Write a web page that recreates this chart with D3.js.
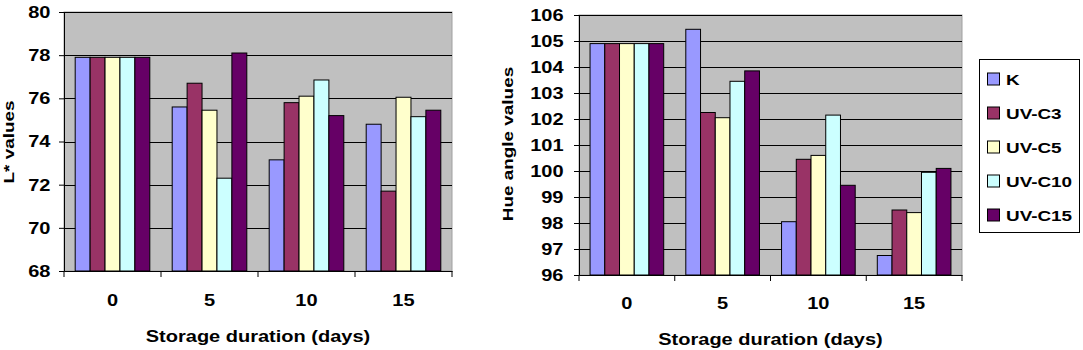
<!DOCTYPE html>
<html><head><meta charset="utf-8">
<script src="https://cdn.jsdelivr.net/npm/d3@7"></script>
<style>body{margin:0;background:#fff}svg{display:block}text{font-family:"Liberation Sans",Arial,sans-serif;font-weight:bold;fill:#000}</style>
</head><body>
<svg id="c" width="1083" height="350"></svg>
<script>
const days = ["0","5","10","15"];
const series = ["K","UV-C3","UV-C5","UV-C10","UV-C15"];
const colors = ["#9999FF","#993366","#FFFFCC","#CCFFFF","#660066"];
// L* values per series, across days 0,5,10,15
const lK    = [77.9, 75.6, 73.15, 74.8];
const lC3   = [77.9, 76.7, 75.8, 71.7];
const lC5   = [77.9, 75.45, 76.1, 76.05];
const lC10  = [77.9, 72.3, 76.85, 75.15];
const lC15  = [77.9, 78.1, 75.2, 75.45];
// Hue angle values
const hK    = [104.9, 105.45, 98.05, 96.75];
const hC3   = [104.9, 102.25, 100.45, 98.5];
const hC5   = [104.9, 102.05, 100.6, 98.4];
const hC10  = [104.9, 103.45, 102.15, 99.95];
const hC15  = [104.9, 103.85, 99.45, 100.1];
const lTicks = [68,70,72,74,76,78,80];
const hTicks = [96,97,98,99,100,101,102,103,104,105,106];

const SX = 1.25, FS = 16, LFS = 15, LSX = 1.26;
const svg = d3.select("#c");

function chart(cfg){
  const g = svg.append("g");
  const x0 = d3.scaleBand().domain(days).range([cfg.x0, cfg.x1]).padding(0);
  const x1 = d3.scaleBand().domain(series).range([0, x0.bandwidth()]).paddingInner(0).paddingOuter(0.75);
  const y = d3.scaleLinear().domain(cfg.domain).range([cfg.yb, cfg.yt]);
  g.append("rect").attr("x", cfg.x0).attr("y", cfg.yt).attr("width", cfg.x1-cfg.x0).attr("height", cfg.yb-cfg.yt)
    .attr("fill","#C0C0C0").attr("stroke","#A0A0A0").attr("stroke-width",1);
  g.selectAll(".grid").data(cfg.ticks.slice(1)).join("line")
    .attr("x1",cfg.x0).attr("x2",cfg.x1).attr("y1",d=>Math.round(y(d))+0.5).attr("y2",d=>Math.round(y(d))+0.5)
    .attr("stroke","#000").attr("stroke-width",1);
  const data = cfg.values.map((vals,si)=>vals.map((v,di)=>({s:series[si],d:days[di],v,si})));
  g.selectAll(".bar").data(data.flat()).join("rect")
    .attr("x",d=>x0(d.d)+x1(d.s)).attr("width",x1.bandwidth())
    .attr("y",d=>y(d.v)).attr("height",d=>cfg.yb-y(d.v))
    .attr("fill",d=>colors[d.si]).attr("stroke","#000").attr("stroke-width",1);
  const ya = g.append("g").attr("transform",`translate(${cfg.x0},0)`)
    .call(d3.axisLeft(y).tickValues(cfg.ticks).tickSize(5).tickFormat(d3.format("d")));
  ya.attr("font-family",null);
  ya.select(".domain").attr("stroke","#000");
  ya.selectAll("text").attr("font-size",FS).attr("x",-cfg.labOff/SX).attr("dy","0.34em")
    .attr("transform",`scale(${SX},1)`);
  const xa = g.append("g").attr("transform",`translate(0,${cfg.yb})`)
    .call(d3.axisBottom(x0).tickSize(0));
  xa.attr("font-family",null);
  xa.select(".domain").attr("stroke","#000");
  xa.selectAll(".tick text").attr("font-size",FS).attr("y",cfg.xLabY - cfg.yb).attr("dy",0).attr("x",0)
    .attr("transform",`scale(${SX},1)`);
  const bounds = days.map(d=>x0(d)).concat([cfg.x1]);
  g.selectAll(".bt").data(bounds).join("line")
    .attr("x1",d=>d).attr("x2",d=>d).attr("y1",cfg.yb).attr("y2",cfg.yb+6)
    .attr("stroke","#000");
  g.append("text").attr("text-anchor","middle").attr("font-size",FS)
    .attr("transform",`translate(${(cfg.x0+cfg.x1)/2},${cfg.xTitleY}) scale(${SX},1)`)
    .text("Storage duration (days)");
  g.append("text").attr("text-anchor","middle").attr("font-size",LFS)
    .attr("transform",`translate(${cfg.yTitleX},${cfg.yTitleY}) rotate(-90) scale(${LSX},1)`)
    .text(cfg.yTitle);
}

chart({x0:64,x1:452,yt:12,yb:271,domain:[68,80],ticks:lTicks,
  values:[lK,lC3,lC5,lC10,lC15],labOff:13.5,xLabY:306,xTitleY:342,
  yTitleX:14,yTitleY:142,yTitle:"L* values"});
chart({x0:579,x1:962,yt:15,yb:275,domain:[96,106],ticks:hTicks,
  values:[hK,hC3,hC5,hC10,hC15],labOff:15.5,xLabY:309,xTitleY:345,
  yTitleX:513,yTitleY:144,yTitle:"Hue angle values"});

const lg = svg.append("g");
lg.append("rect").attr("x",979.5).attr("y",59.5).attr("width",100).attr("height",173)
  .attr("fill","#fff").attr("stroke","#000");
const ly = d3.scalePoint().domain(series).range([79,215]);
series.forEach((s,i)=>{
  lg.append("rect").attr("x",987.5).attr("y",ly(s)-6).attr("width",12).attr("height",12)
    .attr("fill",colors[i]).attr("stroke","#000");
  lg.append("text").attr("font-size",LFS)
    .attr("transform",`translate(1006,${ly(s)+5.5}) scale(${LSX},1)`).text(s);
});
</script>
</body></html>
